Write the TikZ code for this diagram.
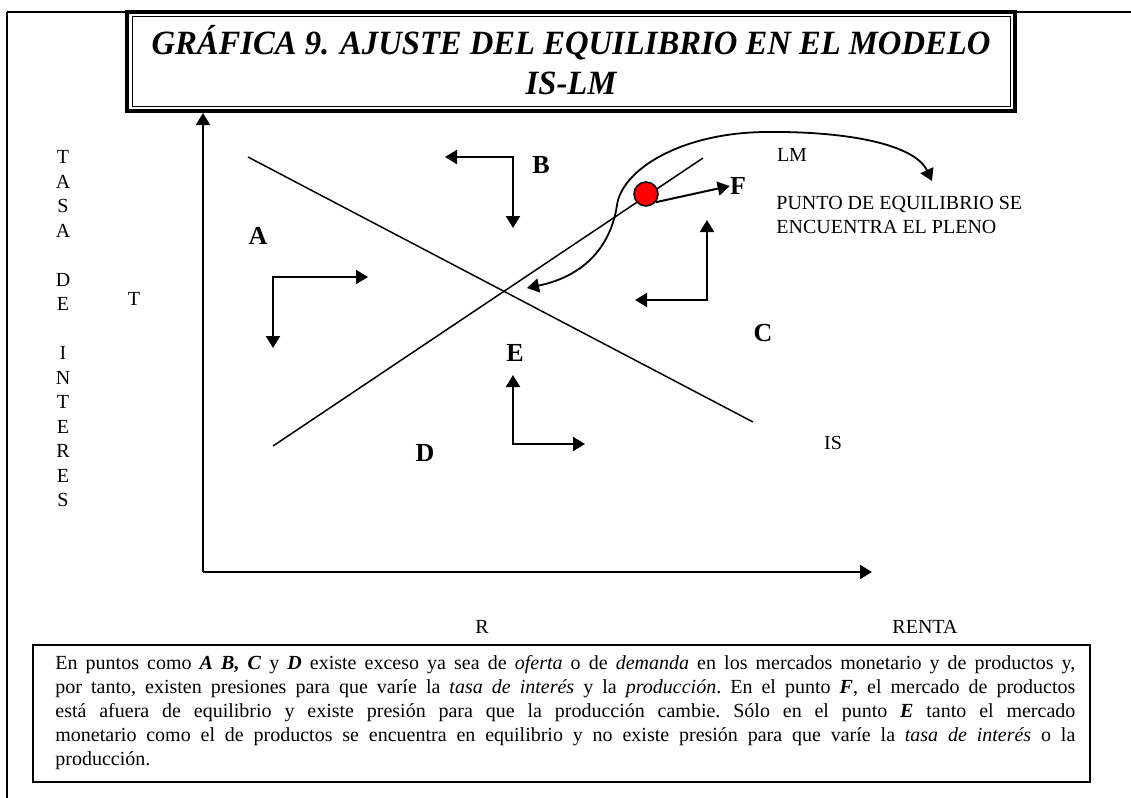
\documentclass[tikz,border=0pt]{standalone}
\usepackage{fontspec}
\setmainfont{Liberation Serif}
\newfontfamily\titlefont[FakeStretch=0.96]{Liberation Serif}
\usetikzlibrary{arrows.meta}

\tikzset{
  >={Triangle[length=6pt,width=7pt]},
  zone/.style={font=\fontsize{13}{15}\selectfont\bfseries},
  lbl/.style={font=\fontsize{10}{12}\selectfont,inner sep=0pt},
  turn/.style={line width=1pt,<->},
}

\begin{document}
\begin{tikzpicture}[x=0.5pt,y=-0.5pt]
			\useasboundingbox (0,0) rectangle (1131,798);
			
			% Page frame, top and left edges
			\draw[line width=0.75pt] (7,12) -- (1131,12);
			\draw[line width=0.75pt] (7,12) -- (7,798);
			
			% Title box with double border
			\draw[line width=2pt,fill=white] (127,12) rectangle (1015,111);
			\draw[line width=0.5pt] (132.5,16.5) rectangle (1010,106);
			\node[font=\titlefont\fontsize{17}{20}\selectfont\bfseries\itshape,align=center] (title) at (571,60)
				{GRÁFICA 9. AJUSTE DEL EQUILIBRIO EN EL MODELO\\IS-LM};
			
			% Axes
			\coordinate (O) at (203,572);
			\coordinate (ytip) at (203,113);
			\coordinate (xtip) at (872,572);
			\draw[line width=1pt,->] (O) -- (ytip);
			\draw[line width=1pt,->] (O) -- (xtip);
			
			% IS and LM curves
			\coordinate (IS0) at (248,157);
			\coordinate (IS1) at (753,422);
			\coordinate (LM0) at (273,446);
			\coordinate (LM1) at (703,158);
			\draw[line width=0.75pt] (IS0) -- (IS1);
			\draw[line width=0.75pt] (LM0) -- (LM1);
			
			% Point on LM and push towards F
			\node[circle,draw,line width=0.75pt,fill=red,minimum size=12pt,inner sep=0pt] (dot) at (646,194) {};
			\node[zone,inner sep=0pt] (F) at (738,186) {F};
			\draw[line width=1pt,->] (dot.-40) -- (F.west);
			
			% Curved arrow between the equilibrium and the note
			\coordinate (c0) at (527,288);
			\coordinate (c1) at (932,181);
			\draw[line width=0.9pt,<->] (c0) .. controls (590,275) and (612,240) .. (617,205)
				.. controls (622,170) and (680,133) .. (765,132)
				.. controls (850,131) and (915,145) .. (c1);
			
			% Adjustment arrows in each region
			\draw[turn] (445,157) -- (513,157) -- (513,228);
			\draw[turn] (368,277) -- (273,277) -- (273,348);
			\draw[turn] (635,300) -- (707,300) -- (707,220);
			\draw[turn] (513,375) -- (513,444) -- (585,444);
			
			% Region labels
			\node[zone] (A) at (258,236) {A};
			\node[zone] (B) at (541,165) {B};
			\node[zone] (C) at (763,333) {C};
			\node[zone] (D) at (425,453) {D};
			\node[zone] (E) at (515,353) {E};
			
			% Curve and axis labels
			\node[lbl] (LM) at (792,155) {LM};
			\node[lbl,anchor=west,align=left] (pleno) at (776,215) {PUNTO DE EQUILIBRIO SE\\ENCUENTRA EL PLENO};
			\node[lbl] (IS) at (833,443) {IS};
			\node[lbl] (T) at (134,299) {T};
			\node[lbl] (R) at (482,627) {R};
			\node[lbl] (renta) at (925,627) {RENTA};
			\node[lbl,font=\fontsize{10}{12.25}\selectfont,align=center,anchor=north] (tasa) at (63,150)
				{T\\A\\S\\A\\[12.25pt]D\\E\\[12.25pt]I\\N\\T\\E\\R\\E\\S};
			
			% Explanation box
			\draw[line width=0.75pt] (33,645) rectangle (1090,782);
			\node[anchor=north west,text width=510pt,align=justify,inner sep=0pt,
				font=\fontsize{10}{12}\selectfont\frenchspacing] (texto) at (55,655)
				{En puntos como \textbf{\textit{A B, C}} y \textbf{\textit{D}} existe exceso ya sea de \textit{oferta} o de \textit{demanda} en los mercados monetario y de productos y,\linebreak
				por tanto, existen presiones para que varíe la \textit{tasa de interés} y la \textit{producción}. En el punto \textbf{\textit{F}}, el mercado de productos\linebreak
				está afuera de equilibrio y existe presión para que la producción cambie. Sólo en el punto \textbf{\textit{E}} tanto el mercado\linebreak
				monetario como el de productos se encuentra en equilibrio y no existe presión para que varíe la \textit{tasa de interés} o la\linebreak
				producción.};
			
		\end{tikzpicture}
\end{document}
